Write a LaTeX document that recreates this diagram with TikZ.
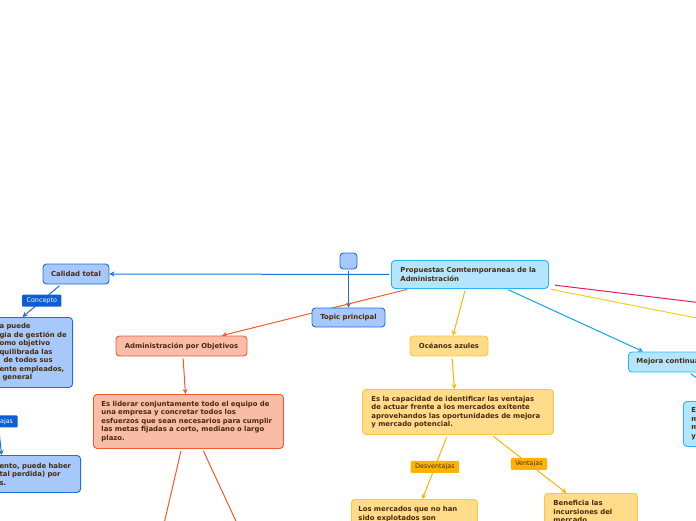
\documentclass[tikz,border=0pt]{standalone}
\usepackage{fontspec}
\newfontfamily\mapfont{DejaVu Sans}
\usetikzlibrary{arrows.meta,positioning,backgrounds}
\definecolor{ink}{HTML}{4A2A0E}
\definecolor{blufill}{HTML}{A6C8FA}
\definecolor{bluline}{HTML}{1E6FDC}
\definecolor{bluetag}{HTML}{0A5FD6}
\definecolor{skyfill}{HTML}{B3E5FC}
\definecolor{skyline}{HTML}{29B6F6}
\definecolor{skyarrow}{HTML}{0AA5EE}
\definecolor{salfill}{HTML}{F8BCA8}
\definecolor{salline}{HTML}{F4592A}
\definecolor{ambfill}{HTML}{FFDC8A}
\definecolor{ambline}{HTML}{FFC53D}
\definecolor{ambarrow}{HTML}{FFB300}
\definecolor{pinkline}{HTML}{E8195F}
\definecolor{yelline}{HTML}{F2D020}
\tikzset{
  card/.style={line width=0.9pt,rounded corners=3.5pt,text=ink,inner ysep=2pt,
               font=\mapfont\bfseries\fontsize{6.9}{8.5}\selectfont},
  bluecard/.style={card,draw=bluline,fill=blufill},
  skycard/.style={card,draw=skyline,fill=skyfill},
  salcard/.style={card,draw=salline,fill=salfill},
  ambcard/.style={card,draw=ambline,fill=ambfill},
  tagbox/.style={font=\mapfont\fontsize{6.4}{7.5}\selectfont,inner xsep=4.5pt,
                 inner ysep=1pt,minimum height=12pt,rounded corners=1pt},
  bluetagbox/.style={tagbox,fill=bluetag,text=white},
  ambtagbox/.style={tagbox,fill=ambarrow,text=ink},
  linkarr/.style={-{Stealth[length=5pt,width=5pt]},line width=1pt,shorten <=2pt},
  bluearr/.style={linkarr,draw=bluline},
  salarr/.style={linkarr,draw=salline},
  ambarr/.style={linkarr,draw=ambarrow},
  skyarr/.style={linkarr,draw=skyarrow},
  plainlink/.style={line width=1pt,shorten <=2pt}
}

\begin{document}
\begin{tikzpicture}[x=1pt,y=-1pt]
  \useasboundingbox (0,0) rectangle (696,520);
  \clip (0,0) rectangle (696,520);
  % central topic and its neighbours
  \node[skycard,anchor=north west,text width=139pt,inner xsep=9pt,
        minimum height=28pt,align=left] (prop) at (391,260)
    {Propuestas Comtemporaneas de la\\Administración};
  \node[bluecard,minimum width=17pt,minimum height=16pt,inner sep=0pt] (sq) at (348.5,261) {};
  \node[bluecard,minimum width=73pt,minimum height=19pt] (topic) at (348.5,317.5) {Topic principal};
  % calidad total branch
  \node[bluecard,minimum width=66pt,minimum height=20pt] (cal) at (76,274) {Calidad total};
  \node[bluecard,anchor=north east,text width=69pt,inner xsep=4pt,
        minimum height=70pt,align=left] (calconc) at (73,317)
    {a puede\\gia de gestión de\\omo objetivo\\quilibrada las\\\hspace*{4pt}de todos sus\\ente empleados,\\\hspace*{3pt}general};
  \node[bluecard,anchor=north east,text width=77pt,inner xsep=4pt,
        minimum height=37pt,align=left] (calvent) at (81,455)
    {ento, puede haber\\tal perdida) por\\s.};
  % administracion por objetivos branch
  \node[salcard,minimum width=131pt,minimum height=20pt] (adm) at (181.5,346) {Administración por Objetivos};
  \node[salcard,anchor=north west,text width=174pt,inner xsep=8pt,
        minimum height=54pt,align=left] (admdef) at (93,394)
    {Es liderar conjuntamente todo el equipo de\\una empresa y concretar todos los\\esfuerzos que sean necesarios para cumplir\\las metas fijadas a corto, mediano o largo\\plazo.};
  % oceanos azules branch
  \node[ambcard,minimum width=78pt,minimum height=20pt] (oce) at (449,346) {Océanos azules};
  \node[ambcard,anchor=north west,text width=173pt,inner xsep=9pt,
        minimum height=45pt,align=left] (oceconc) at (362,389)
    {Es la capacidad de identificar las ventajas\\de actuar frente a los mercados exitente\\aprovehandos las oportunidades de mejora\\y mercado potencial.};
  \node[ambcard,anchor=north west,text width=112pt,inner xsep=7pt,
        inner ysep=7pt,align=left] (ocedes) at (351,499)
    {Los mercados que no han\\sido explotados son};
  \node[ambcard,anchor=north west,text width=75pt,inner xsep=9pt,
        inner ysep=7pt,align=left] (ocevent) at (544,493)
    {Beneficia las\\incursiones del\\mercado};
  % mejora continua branch
  \node[skycard,anchor=west,minimum height=20pt,inner xsep=8pt] (mej) at (628,362) {Mejora continua};
  \node[skycard,anchor=north west,text width=40pt,inner xsep=8pt,
        minimum height=45pt,align=left] (mejdef) at (683,401) {E\\m\\m\\y};
  % ends that leave the frame
  \coordinate (offa) at (155.6,560);
  \coordinate (offb) at (254,560);
  \coordinate (offpink) at (760,310);
  \coordinate (offyel) at (760,330.5);

  \begin{scope}[on background layer]
    \clip (0,0) rectangle (696,520);
    \draw[bluearr] (prop.west) -- (cal.east);
    \draw[bluearr] (sq.south) -- (topic.north);
    \draw[bluearr] ([xshift=-15pt]cal.south) -- node[bluetagbox]{Concepto} ([xshift=-11.5pt]calconc.north);
    \draw[bluearr] ([xshift=-39.5pt]calconc.south) -- node[bluetagbox,text width=30pt,align=right]{ajas} ([xshift=-36.5pt]calvent.north);
    \draw[salarr] ([xshift=18pt]prop.south west) -- ([xshift=40.5pt]adm.north);
    \draw[salarr] ([xshift=1.5pt]adm.south) -- ([xshift=-3pt]admdef.north);
    \draw[plainlink,draw=salline] ([xshift=-7pt]admdef.south) -- (offa);
    \draw[plainlink,draw=salline] ([xshift=14pt]admdef.south) -- (offb);
    \draw[ambarr] ([xshift=-4.5pt]prop.south) -- ([xshift=4pt]oce.north);
    \draw[ambarr] ([xshift=3pt]oce.south) -- ([xshift=-3.5pt]oceconc.north);
    \draw[ambarr] ([xshift=-10.5pt]oceconc.south) -- node[ambtagbox]{Desventajas} ([xshift=8pt]ocedes.north);
    \draw[ambarr] ([xshift=33.5pt]oceconc.south) -- node[ambtagbox]{Ventajas} ([xshift=-24.5pt]ocevent.north);
    \draw[skyarr] ([xshift=36.5pt]prop.south) -- ([xshift=15pt]mej.north west);
    \draw[skyarr] ([xshift=61pt]mej.south west) -- ([xshift=46pt]mejdef.north west);
    \draw[plainlink,draw=pinkline] ([shift={(4pt,4pt)}]prop.south east) -- (offpink);
    \draw[plainlink,draw=yelline] (prop.south east) -- (offyel);
  \end{scope}
\end{tikzpicture}
\end{document}
